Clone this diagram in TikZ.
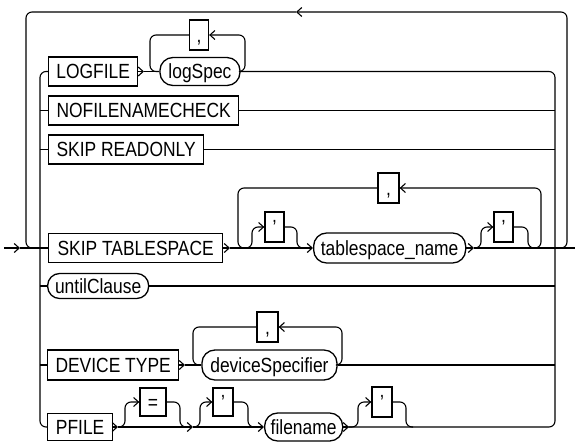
\documentclass[tikz,border=0pt]{standalone}
\usepackage{fontspec}
\setmainfont{Liberation Sans}[FakeStretch=0.85]
\usetikzlibrary{positioning}
\usetikzlibrary{arrows.meta}

\begin{document}
\begin{tikzpicture}
[
x=1pt, y=-1pt,
line width=1.1pt,
>={Straight Barb[length=5pt,width=9pt]},
rail/.style={rounded corners=6pt},
keyword/.style={rectangle, draw, line width=1.3pt, minimum height=29pt, inner xsep=2pt, inner ysep=0pt, text height=14.7pt, text depth=0pt, font=\fontsize{20.5}{20.5}\selectfont},
nonterm/.style={keyword, rounded corners=13pt, minimum height=28pt},
punct/.style={keyword, minimum width=19pt, minimum height=30pt},
]
\useasboundingbox (0,0) rectangle (575,442);
\node (logfile)   [keyword, minimum width=89pt, anchor=west] at (48,71.5)  {LOGFILE};
\node (logspec)   [nonterm, minimum width=80pt, right = 21pt of logfile]  {logSpec};
\node (lscomma)   [punct] at (199,35)                                       {,};
\node (nofncheck) [keyword, minimum width=190pt, anchor=west] at (48,110.5) {NOFILENAMECHECK};
\node (skipro)    [keyword, minimum width=155pt, anchor=west] at (48,149.5) {SKIP READONLY};
\node (skipts)    [keyword, minimum width=174pt, anchor=west] at (48,248)   {SKIP TABLESPACE};
\node (q1)        [punct] at (274.5,227)                                    {’};
\node (tsname)    [nonterm, minimum width=152pt, minimum height=30pt, anchor=west] at (313,248) {tablespace\_name};
\node (q2)        [punct] at (503.5,227)                                    {’};
\node (tscomma)   [punct, minimum width=21pt] at (388.5,188)                {,};
\node (until)     [nonterm, minimum width=101pt, minimum height=25pt, rounded corners=12pt, anchor=west] at (47,286) {untilClause};
\node (devtype)   [keyword, minimum width=131pt, minimum height=30pt, anchor=west] at (47,365) {DEVICE TYPE};
\node (devspec)   [nonterm, minimum width=135pt, minimum height=30pt, right = 22pt of devtype] {deviceSpecifier};
\node (dscomma)   [punct, minimum width=21pt] at (267.5,327)                {,};
\node (pfile)     [keyword, minimum width=65pt, minimum height=27pt, anchor=west] at (47,427) {PFILE};
\node (eqbox)     [punct, minimum width=26pt, minimum height=28pt] at (153,402) {=};
\node (q3)        [punct, minimum width=20pt, minimum height=28pt] at (223,402) {’};
\node (filename)  [nonterm, minimum width=78pt, anchor=west] at (264,427)  {filename};
\node (q4)        [punct, minimum width=20pt] at (382,402)                  {’};
\coordinate (start)  at (4,248);
\coordinate (entry)  at (20,248);
\coordinate (finish) at (575,248);
\coordinate (lrt)    at (40,71.5);
\coordinate (lrb)    at (40,427);
\coordinate (rrt)    at (555,71.5);
\coordinate (rrb)    at (555,427);
\coordinate (olw)    at (26,248);
\coordinate (olnw)   at (26,12);
\coordinate (olne)   at (567,12);
\coordinate (ole)    at (567,248);
\coordinate (olstart) at (560,248);
\coordinate (oltip)  at (296,12);
% entry, exit and the outer loop
\draw [->]       (start) -- (entry);
\draw            (entry) -- (skipts.west);
\draw [->, rail] (olstart) -- (ole) -- (olne) -- (oltip);
\draw [rail]     (oltip) -- (olnw) -- (olw) -- (lrt |- skipts);
% left and right rails
\draw [rail]     (logfile.west) -- (lrt) -- (lrb) -- (pfile.west);
\draw            (lrt |- nofncheck) -- (nofncheck.west);
\draw            (lrt |- skipro) -- (skipro.west);
\draw            (lrt |- until) -- (until.west);
\draw            (lrt |- devtype) -- (devtype.west);
\draw [rail]     (logspec.east) -- (rrt) -- (rrb) -- (filename.east);
\draw            (nofncheck.east) -- (rrt |- nofncheck);
\draw            (skipro.east) -- (rrt |- skipro);
\draw            (until.east) -- (rrt |- until);
\draw            (devspec.east) -- (rrt |- devspec);
% LOGFILE
\coordinate (l1a) at (144,71.5);
\coordinate (l1l) at (150,71.5);
\coordinate (l1r) at (245,71.5);
\draw [->]       (logfile.east) -- (l1a);
\draw            (l1a) -- (logspec.west);
\draw [->, rail] (logspec.east) -- (l1r) -- (l1r |- lscomma) -- (lscomma.east);
\draw [rail]     (lscomma.west) -- (l1l |- lscomma) -- (l1l) -- (logspec.west);
% SKIP TABLESPACE
\coordinate (t4a) at (230,248);
\coordinate (t4k) at (238,248);
\coordinate (t4b) at (245,248);
\coordinate (t4c) at (252,248);
\coordinate (t4d) at (297,248);
\coordinate (t4e) at (304,248);
\coordinate (t4f) at (474,248);
\coordinate (t4g) at (481,248);
\coordinate (t4h) at (528,248);
\coordinate (t4i) at (535,248);
\coordinate (t4j) at (541,248);
\draw [->]       (skipts.east) -- (t4a);
\draw [->]       (t4a) -- (tsname.west);
\draw [->, rail] (t4b) -- (t4c) -- (t4c |- q1) -- (q1.west);
\draw [rail]     (q1.east) -- (t4d |- q1) -- (t4d) -- (t4e);
\draw [->]       (tsname.east) -- (t4f);
\draw            (t4f) -- (finish);
\draw [->, rail] (t4f) -- (t4g) -- (t4g |- q2) -- (q2.west);
\draw [rail]     (q2.east) -- (t4h |- q2) -- (t4h) -- (t4i);
\draw [->, rail] (t4i) -- (t4j) -- (t4j |- tscomma) -- (tscomma.east);
\draw [rail]     (tscomma.west) -- (t4k |- tscomma) -- (t4k) -- (t4b);
% DEVICE TYPE
\coordinate (d6a) at (185,365);
\coordinate (d6l) at (193,365);
\coordinate (d6r) at (342,365);
\draw [->]       (devtype.east) -- (d6a);
\draw            (d6a) -- (devspec.west);
\draw [->, rail] (devspec.east) -- (d6r) -- (d6r |- dscomma) -- (dscomma.east);
\draw [rail]     (dscomma.west) -- (d6l |- dscomma) -- (d6l) -- (devspec.west);
% PFILE
\coordinate (p7a) at (118,427);
\coordinate (p7c) at (125,427);
\coordinate (p7d) at (180,427);
\coordinate (p7e) at (187,427);
\coordinate (p7b) at (193,427);
\coordinate (p7f) at (200,427);
\coordinate (p7g) at (248,427);
\coordinate (p7h) at (255,427);
\coordinate (p7i) at (349,427);
\coordinate (p7j) at (358,427);
\coordinate (p7k) at (406,427);
\coordinate (p7l) at (413,427);
\draw [->]       (pfile.east) -- (p7a);
\draw [->]       (p7a) -- (p7b);
\draw [->]       (p7b) -- (filename.west);
\draw [->, rail] (p7a) -- (p7c) -- (p7c |- eqbox) -- (eqbox.west);
\draw [rail]     (eqbox.east) -- (p7d |- eqbox) -- (p7d) -- (p7e);
\draw [->, rail] (p7b) -- (p7f) -- (p7f |- q3) -- (q3.west);
\draw [rail]     (q3.east) -- (p7g |- q3) -- (p7g) -- (p7h);
\draw [->]       (filename.east) -- (p7i);
\draw [->, rail] (p7i) -- (p7j) -- (p7j |- q4) -- (q4.west);
\draw [rail]     (q4.east) -- (p7k |- q4) -- (p7k) -- (p7l);
\end{tikzpicture}
\end{document}
